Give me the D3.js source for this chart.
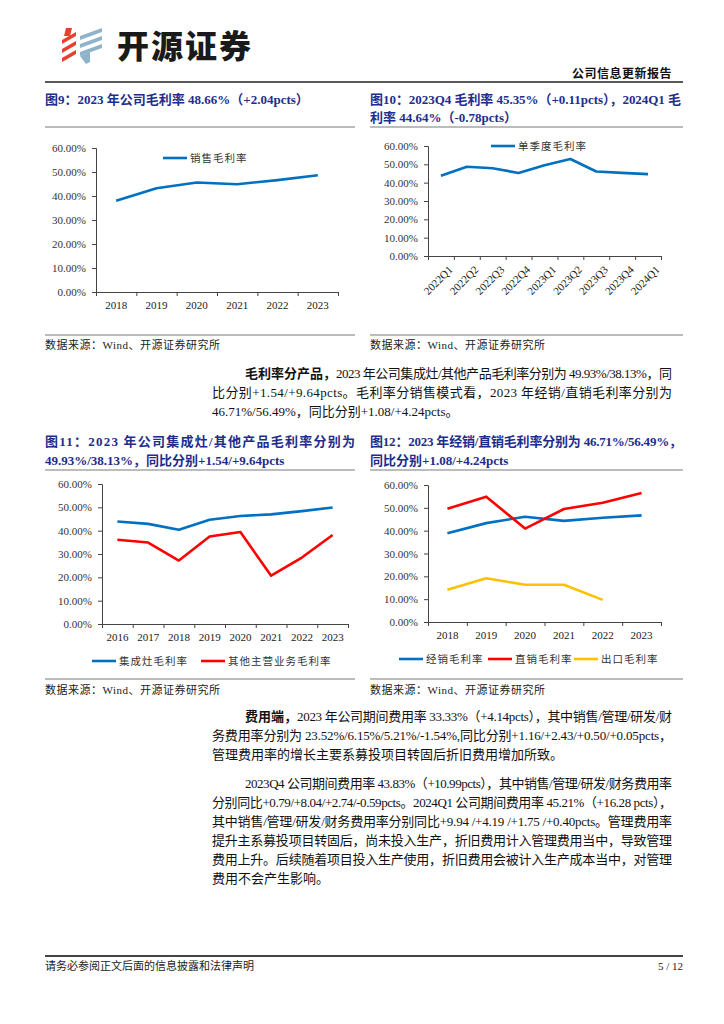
<!DOCTYPE html>
<html><head><meta charset="utf-8">
<script src="https://cdn.jsdelivr.net/npm/d3@7"></script>
<style>
html,body{margin:0;padding:0;background:#fff;}
svg{display:block;}
</style></head>
<body>
<svg id="page" width="724" height="1024"></svg>
<script>
// ---------- DATA ----------
const yTicks = [0, 10, 20, 30, 40, 50, 60];

const years9 = ["2018", "2019", "2020", "2021", "2022", "2023"];
const gross9 = [38.0, 43.2, 45.6, 44.9, 46.62, 48.66];

const quarters10 = ["2022Q1", "2022Q2", "2022Q3", "2022Q4", "2023Q1", "2023Q2", "2023Q3", "2023Q4", "2024Q1"];
const gross10 = [43.8, 48.7, 47.9, 45.24, 49.5, 52.9, 46.1, 45.35, 44.64];

const years11 = ["2016", "2017", "2018", "2019", "2020", "2021", "2022", "2023"];
const stove11 = [43.9, 42.9, 40.4, 44.7, 46.3, 47.0, 48.39, 49.93];
const other11 = [36.1, 34.9, 27.2, 37.5, 39.4, 20.7, 28.49, 38.13];

const years12 = ["2018", "2019", "2020", "2021", "2022", "2023"];
const dealer12 = [38.9, 43.3, 46.1, 44.3, 45.63, 46.71];
const direct12 = [49.6, 54.9, 40.9, 49.5, 52.25, 56.49];
const export12 = [14.1, 19.2, 16.3, 16.3, 9.7, null];

const BLUE = "#0070C0", RED = "#FF0000", YELLOW = "#FFC000";
const NAVY = "#1E2D8C";
const SERIF = "'Liberation Serif','Times New Roman','Noto Sans CJK SC',serif";
const CJK = "'Liberation Serif','Noto Sans CJK SC',sans-serif";

const svg = d3.select("#page");

// ---------- HEADER ----------
const logo = svg.append("g");
const redBars = [[62,40],[62,49],[62,58]];
redBars.forEach(([x,y],i)=>{
  logo.append("path").attr("d",`M${x},${y} L${x+14},${y-8} L${x+14},${y-4} L${x},${y+4} Z`).attr("fill","#E5412E");
});
logo.append("path").attr("d","M66,28 L72,28 L70,36 L64,36 Z").attr("fill","#E5412E");
const blueBars = [[80,36],[80,44],[80,52]];
blueBars.forEach(([x,y])=>{
  logo.append("path").attr("d",`M${x},${y} L${x+22},${y-8} L${x+22},${y-4} L${x},${y+4} Z`).attr("fill","#8FB3C9");
});
logo.append("path").attr("d","M80,56 L90,52 L90,62 L86,64 Z").attr("fill","#8FB3C9");
svg.append("text").attr("x",117).attr("y",58).text("开源证券")
  .attr("font-family","'Noto Sans CJK SC',sans-serif").attr("font-weight",900)
  .attr("font-size",32).attr("letter-spacing",2).attr("fill","#1a1a1a");
svg.append("text").attr("x",672).attr("y",78).attr("text-anchor","end").text("公司信息更新报告")
  .attr("font-family","'Noto Sans CJK SC',sans-serif").attr("font-weight",700).attr("font-size",12)
  .attr("letter-spacing",0.5).attr("fill","#111");
svg.append("line").attr("x1",45).attr("x2",683).attr("y1",82).attr("y2",82).attr("stroke","#222").attr("stroke-width",1.5);

// ---------- helpers ----------
function txt(x, y, s, opt={}) {
  const t = svg.append("text").attr("x",x).attr("y",y).text(s)
    .attr("font-family", opt.family || CJK)
    .attr("font-size", opt.size || 13)
    .attr("fill", opt.fill || "#111");
  if (opt.bold) t.attr("font-weight", 700);
  if (opt.anchor) t.attr("text-anchor", opt.anchor);
  if (opt.ls) t.attr("letter-spacing", opt.ls);
  if (opt.len) t.attr("textLength", opt.len).attr("lengthAdjust","spacing");
  return t;
}
function title(x, y, s, len) { return txt(x, y, s, {bold:true, fill:NAVY, size:13, len}); }
function grayRule(x1, x2, y) {
  svg.append("line").attr("x1",x1).attr("x2",x2).attr("y1",y).attr("y2",y).attr("stroke","#A6A6A6").attr("stroke-width",1.5);
}
function source(x, y) { txt(x, y, "数据来源：Wind、开源证券研究所", {size:11, fill:"#222", ls:0.5}); }

function lineChart(cfg) {
  const g = svg.append("g");
  const x = d3.scaleBand().domain(cfg.cats).range([cfg.x0, cfg.x1]).paddingInner(0).paddingOuter(0);
  const xb = d3.scaleLinear().domain([0, cfg.cats.length]).range([cfg.x0, cfg.x1]);
  const y = d3.scaleLinear().domain([0, 60]).range([cfg.y0, cfg.y1]);
  // y axis
  const ya = g.append("g").attr("transform",`translate(${cfg.x0},0)`)
    .call(d3.axisLeft(y).tickValues(yTicks).tickSize(4).tickPadding(6).tickFormat(d=>d.toFixed(2)+"%"));
  ya.selectAll("text").attr("font-family",SERIF).attr("font-size",11).attr("fill","#333");
  ya.selectAll("line,path").attr("stroke","#444");
  // x axis boundaries
  const xa = g.append("g").attr("transform",`translate(0,${cfg.y0})`)
    .call(d3.axisBottom(xb).tickValues(d3.range(cfg.cats.length+1)).tickSize(4).tickFormat(""));
  xa.selectAll("line,path").attr("stroke","#444");
  // x labels
  const xl = g.append("g").attr("transform",`translate(0,${cfg.y0})`)
    .call(d3.axisBottom(x).tickSize(0).tickPadding(cfg.rot ? 8 : 9));
  xl.select(".domain").remove();
  xl.selectAll("text").attr("font-family",SERIF).attr("font-size",11).attr("fill","#222");
  if (cfg.rot) {
    xl.selectAll("text").attr("text-anchor","end").attr("dy","0.35em")
      .attr("transform", "translate(4,6) rotate(-45)");
  }
  // series
  cfg.series.forEach(s=>{
    const data = s.values.map((v,i)=>({c:cfg.cats[i], v})).filter(d=>d.v!=null);
    g.append("path").datum(data)
      .attr("d", d3.line().x(d=>x(d.c)+x.bandwidth()/2).y(d=>y(d.v)))
      .attr("fill","none").attr("stroke",s.color).attr("stroke-width",2.6).attr("stroke-linejoin","round");
  });
  // legend
  cfg.legend.forEach(l=>{
    g.append("line").attr("x1",l.x).attr("x2",l.x+24).attr("y1",l.y).attr("y2",l.y)
      .attr("stroke",l.color).attr("stroke-width",2.6);
    g.append("text").attr("x",l.x+27).attr("y",l.y+4).text(l.label)
      .attr("font-family","'Noto Sans CJK SC',sans-serif").attr("font-size",10.5).attr("letter-spacing",1).attr("fill","#333");
  });
}

// ---------- CHART 9 ----------
title(45, 103.5, "图9：2023 年公司毛利率 48.66%（+2.04pcts）");
grayRule(45, 355, 127);
lineChart({cats:years9, x0:96, x1:338, y0:292, y1:148,
  series:[{values:gross9, color:BLUE}],
  legend:[{x:163, y:158, color:BLUE, label:"销售毛利率"}]});
grayRule(45, 355, 335);
source(45, 349);

// ---------- CHART 10 ----------
title(370, 103.5, "图10：2023Q4 毛利率 45.35%（+0.11pcts），2024Q1 毛", 311);
title(370, 121.5, "利率 44.64%（-0.78pcts）");
grayRule(370, 683, 127);
lineChart({cats:quarters10, x0:428, x1:661, y0:256, y1:146, rot:true,
  series:[{values:gross10, color:BLUE}],
  legend:[{x:491, y:146, color:BLUE, label:"单季度毛利率"}]});
grayRule(370, 683, 335);
source(370, 349);

// ---------- PARAGRAPH 1 ----------
txt(245, 377.5, "毛利率分产品，", {bold:true});
txt(336, 377.5, "2023 年公司集成灶/其他产品毛利率分别为 49.93%/38.13%，同", {len:336});
txt(212, 396.5, "比分别+1.54/+9.64pcts。毛利率分销售模式看，2023 年经销/直销毛利率分别为", {len:460});
txt(212, 415.5, "46.71%/56.49%，同比分别+1.08/+4.24pcts。");

// ---------- CHART 11 ----------
title(45, 445.5, "图11：2023 年公司集成灶/其他产品毛利率分别为", 310);
title(45, 464.5, "49.93%/38.13%，同比分别+1.54/+9.64pcts");
grayRule(45, 355, 470);
lineChart({cats:years11, x0:102, x1:348, y0:624, y1:484,
  series:[{values:stove11, color:BLUE},{values:other11, color:RED}],
  legend:[{x:92, y:661, color:BLUE, label:"集成灶毛利率"},{x:201, y:661, color:RED, label:"其他主营业务毛利率"}]});
grayRule(45, 355, 679);
source(45, 693.5);

// ---------- CHART 12 ----------
title(370, 445.5, "图12：2023 年经销/直销毛利率分别为 46.71%/56.49%，", 312);
title(370, 464.5, "同比分别+1.08/+4.24pcts");
grayRule(370, 683, 470);
lineChart({cats:years12, x0:428, x1:661, y0:622, y1:485,
  series:[{values:dealer12, color:BLUE},{values:direct12, color:RED},{values:export12, color:YELLOW}],
  legend:[{x:399, y:659, color:BLUE, label:"经销毛利率"},{x:488, y:659, color:RED, label:"直销毛利率"},{x:574, y:659, color:YELLOW, label:"出口毛利率"}]});
grayRule(370, 683, 679);
source(370, 693.5);

// ---------- PARAGRAPH 2 ----------
txt(245, 720.5, "费用端，", {bold:true});
txt(297, 720.5, "2023 年公司期间费用率 33.33%（+4.14pcts），其中销售/管理/研发/财", {len:375});
txt(212, 739.5, "务费用率分别为 23.52%/6.15%/5.21%/-1.54%,同比分别+1.16/+2.43/+0.50/+0.05pcts，", {len:460});
txt(212, 758.5, "管理费用率的增长主要系募投项目转固后折旧费用增加所致。");

// ---------- PARAGRAPH 3 ----------
txt(245, 787.5, "2023Q4 公司期间费用率 43.83%（+10.99pcts），其中销售/管理/研发/财务费用率", {len:427});
txt(212, 806.5, "分别同比+0.79/+8.04/+2.74/-0.59pcts。2024Q1 公司期间费用率 45.21%（+16.28 pcts），", {len:460});
txt(212, 825.5, "其中销售/管理/研发/财务费用率分别同比+9.94 /+4.19 /+1.75 /+0.40pcts。管理费用率", {len:460});
txt(212, 844.5, "提升主系募投项目转固后，尚未投入生产，折旧费用计入管理费用当中，导致管理", {len:460});
txt(212, 863.5, "费用上升。后续随着项目投入生产使用，折旧费用会被计入生产成本当中，对管理", {len:460});
txt(212, 882.5, "费用不会产生影响。");

// ---------- FOOTER ----------
svg.append("line").attr("x1",45).attr("x2",683).attr("y1",956).attr("y2",956).attr("stroke","#444").attr("stroke-width",2);
txt(45, 970, "请务必参阅正文后面的信息披露和法律声明", {size:11, fill:"#222"});
txt(683, 970, "5 / 12", {size:11, fill:"#222", anchor:"end", family:SERIF});
</script>
</body></html>
